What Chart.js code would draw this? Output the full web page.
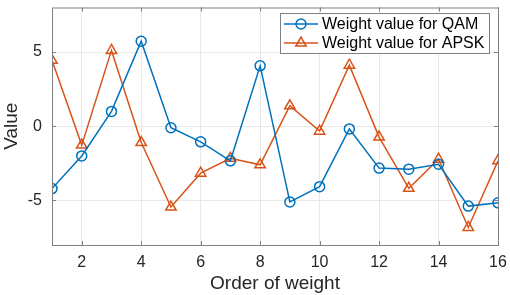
<!DOCTYPE html>
<html>
<head>
<meta charset="utf-8">
<script src="https://cdn.jsdelivr.net/npm/chart.js@4.4.0/dist/chart.umd.min.js"></script>
<style>
  html, body { margin: 0; padding: 0; background: #fff; }
  #wrap { width: 510px; height: 295px; }
</style>
</head>
<body>
<div id="wrap"><canvas id="chart" width="510" height="295"></canvas></div>
<script>
// data
const order = [1, 2, 3, 4, 5, 6, 7, 8, 9, 10, 11, 12, 13, 14, 15, 16];
const qamWeights = [-4.2, -2.0, 1.0, 5.73, -0.1, -1.05, -2.33, 4.07, -5.1, -4.07, -0.18, -2.82, -2.89, -2.56, -5.38, -5.16];
const apskWeights = [4.44, -1.27, 5.11, -1.1, -5.44, -3.16, -2.16, -2.6, 1.38, -0.33, 4.11, -0.73, -4.18, -2.22, -6.82, -2.33];
const xTicks = [2, 4, 6, 8, 10, 12, 14, 16];
const yTicks = [-5, 0, 5];
const seriesNames = ["Weight value for QAM", "Weight value for APSK"];

const BLUE = "#0072BD";
const ORANGE = "#D95319";
const FONT = "'Liberation Sans', Arial, sans-serif";

const toPoints = (ys) => order.map((x, i) => ({ x: x, y: ys[i] }));

// box around the axes + legend drawn inside the plot, like MATLAB
const matlabBox = {
  id: "matlabBox",
  afterDatasetsDraw(chart) {
    const { ctx, chartArea: a } = chart;
    ctx.save();
    ctx.strokeStyle = "#808080";
    ctx.lineWidth = 1;
    ctx.strokeRect(a.left + 0.5, a.top + 0.5, a.right - a.left, a.bottom - a.top);

    // small inward tick marks
    const xs = chart.scales.x, ys = chart.scales.y;
    ctx.beginPath();
    xTicks.forEach((t) => {
      const px = Math.round(xs.getPixelForValue(t)) + 0.5;
      ctx.moveTo(px, a.bottom); ctx.lineTo(px, a.bottom - 4);
      ctx.moveTo(px, a.top); ctx.lineTo(px, a.top + 4);
    });
    yTicks.forEach((t) => {
      const py = Math.round(ys.getPixelForValue(t)) + 0.5;
      ctx.moveTo(a.left, py); ctx.lineTo(a.left + 4, py);
      ctx.moveTo(a.right, py); ctx.lineTo(a.right - 4, py);
    });
    ctx.stroke();

    // legend
    const lx = 280, ly = 13, lw = 209, lh = 40;
    ctx.fillStyle = "#fff";
    ctx.fillRect(lx, ly, lw, lh);
    ctx.strokeStyle = "#808080";
    ctx.strokeRect(lx + 0.5, ly + 0.5, lw, lh);
    ctx.font = "16px " + FONT;
    ctx.textBaseline = "middle";
    chart.data.datasets.forEach((ds, i) => {
      const cy = ly + 11 + i * 19;
      ctx.strokeStyle = ds.borderColor;
      ctx.lineWidth = 1.5;
      ctx.beginPath();
      ctx.moveTo(lx + 4, cy); ctx.lineTo(lx + 38, cy);
      ctx.stroke();
      ctx.fillStyle = "rgba(0,0,0,0)";
      Chart.helpers.drawPoint(ctx, {
        pointStyle: ds.pointStyle, radius: ds.pointRadius,
        borderWidth: 1.5
      }, lx + 21, cy);
      ctx.fillStyle = "#000";
      ctx.fillText(seriesNames[i], lx + 42, cy + 1);
    });
    ctx.restore();
  }
};

new Chart(document.getElementById("chart"), {
  type: "line",
  data: {
    datasets: [
      {
        label: seriesNames[0],
        data: toPoints(qamWeights),
        borderColor: BLUE,
        backgroundColor: "rgba(0,0,0,0)",
        pointBackgroundColor: "rgba(0,0,0,0)",
        pointBorderColor: BLUE,
        pointStyle: "circle",
        pointRadius: 5,
        pointBorderWidth: 1.5,
        borderWidth: 1.5,
        tension: 0
      },
      {
        label: seriesNames[1],
        data: toPoints(apskWeights),
        borderColor: ORANGE,
        backgroundColor: "rgba(0,0,0,0)",
        pointBackgroundColor: "rgba(0,0,0,0)",
        pointBorderColor: ORANGE,
        pointStyle: "triangle",
        pointRadius: 6,
        pointBorderWidth: 1.5,
        borderWidth: 1.5,
        tension: 0
      }
    ]
  },
  options: {
    responsive: false,
    animation: false,
    layout: { padding: { left: 0, right: 12, top: 5, bottom: 0 } },
    plugins: { legend: { display: false }, tooltip: { enabled: false } },
    scales: {
      x: {
        type: "linear",
        min: 1,
        max: 16,
        afterBuildTicks: (s) => { s.ticks = xTicks.map((v) => ({ value: v })); },
        afterFit: (s) => { s.height = 50; s.paddingLeft = 0; s.paddingRight = 0; },
        grid: { color: "#e8e8e8", drawTicks: false },
        border: { display: false },
        ticks: { color: "#262626", font: { family: FONT, size: 16 }, padding: 8, maxRotation: 0 },
        title: {
          display: true, text: "Order of weight", color: "#262626",
          font: { family: FONT, size: 19 }, padding: { top: 0, bottom: 0 }
        }
      },
      y: {
        min: -8,
        max: 8,
        afterBuildTicks: (s) => { s.ticks = yTicks.map((v) => ({ value: v })); },
        afterFit: (s) => { s.width = 52; s.paddingTop = 0; s.paddingBottom = 0; },
        grid: { color: "#e8e8e8", drawTicks: false },
        border: { display: false },
        ticks: { color: "#262626", font: { family: FONT, size: 16 }, padding: 10 },
        title: {
          display: true, text: "Value", color: "#262626",
          font: { family: FONT, size: 19 }, padding: { top: 0, bottom: 4 }
        }
      }
    }
  },
  plugins: [matlabBox]
});
</script>
</body>
</html>
